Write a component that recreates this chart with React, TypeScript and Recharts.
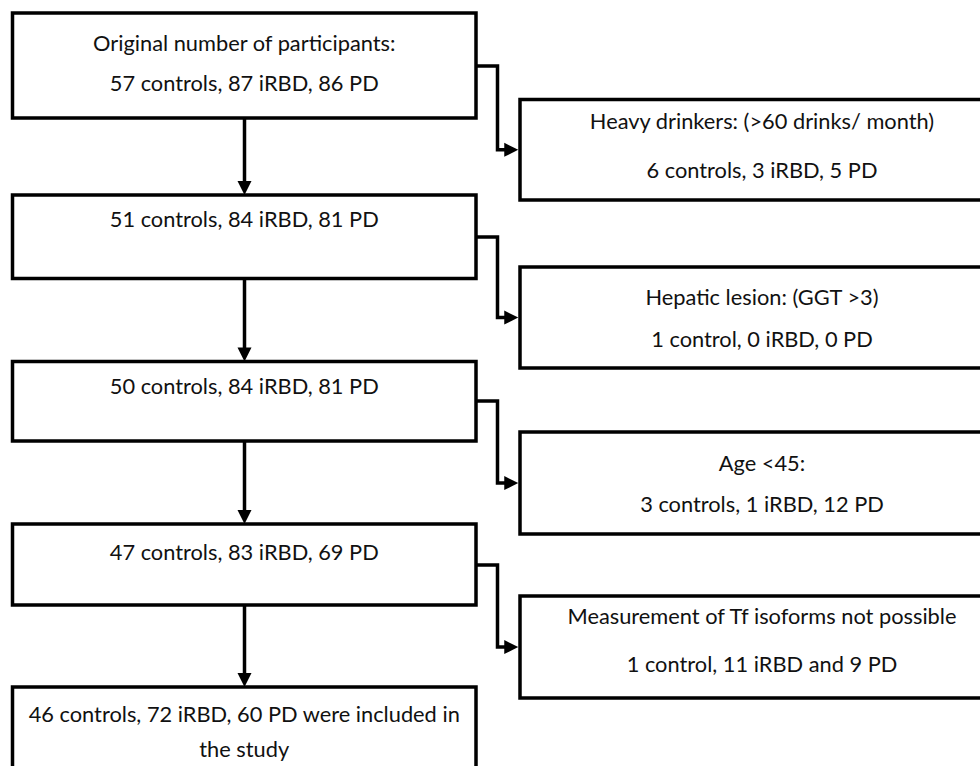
import React from "react";
import { ComposedChart, XAxis, YAxis, ReferenceArea, Line, Scatter } from "recharts";

// ---- content ----
const mainStages: string[][] = [
  ["Original number of participants:", "57 controls, 87 iRBD, 86 PD"],
  ["51 controls, 84 iRBD, 81 PD"],
  ["50 controls, 84 iRBD, 81 PD"],
  ["47 controls, 83 iRBD, 69 PD"],
  ["46 controls, 72 iRBD, 60 PD were included in", "the study"],
];
const exclusions: string[][] = [
  ["Heavy drinkers: (>60 drinks/ month)", "6 controls, 3 iRBD, 5 PD"],
  ["Hepatic lesion: (GGT >3)", "1 control, 0 iRBD, 0 PD"],
  ["Age <45:", "3 controls, 1 iRBD, 12 PD"],
  ["Measurement of Tf isoforms not possible", "1 control, 11 iRBD and 9 PD"],
];

// ---- layout (page coordinates) ----
const W = 980;
const H = 766;
const LEFT_X = [12.5, 476];
const RIGHT_X = [520, 1004];
const mainTops = [13, 195, 361.5, 524, 687];
const mainBottoms = [118, 278.5, 441, 605, 800];
const mainBaselines = [[51, 91], [227], [394], [560], [722, 757]];
const exclTops = [99.5, 267, 432, 596];
const exclBottoms = [200, 368, 534, 698];
const exclBaselines = [[129, 178], [305, 347], [471, 512], [624, 672]];
const branchY = [66, 237, 401, 565];
const BEND_X = 497.5;
const DOWN_X = 244.5;
const HEAD = 14;
const STROKE = 3.5;
const FONT = "Lato, 'Open Sans', sans-serif";
const FONT_SIZE = 21.8;

const leftCx = (LEFT_X[0] + LEFT_X[1]) / 2;
const rightCx = 762;

type TextPt = { x: number; y: number; text: string };
const textPoints: TextPt[] = [];
mainStages.forEach((lines, i) =>
  lines.forEach((t, j) => textPoints.push({ x: leftCx, y: mainBaselines[i][j], text: t }))
);
exclusions.forEach((lines, i) =>
  lines.forEach((t, j) => textPoints.push({ x: rightCx, y: exclBaselines[i][j], text: t }))
);

type Seg = { x: number; y: number }[];
const connectors: Seg[] = [];
type Head = { x: number; y: number; dir: "down" | "right" };
const heads: Head[] = [];
// vertical arrows between main boxes
for (let i = 0; i < mainStages.length - 1; i++) {
  const tipY = mainTops[i + 1];
  connectors.push([
    { x: DOWN_X, y: mainBottoms[i] },
    { x: DOWN_X, y: tipY - HEAD + 1 },
  ]);
  heads.push({ x: DOWN_X, y: tipY, dir: "down" });
}
// branch arrows to exclusion boxes
exclusions.forEach((_, i) => {
  const targetY = (exclTops[i] + exclBottoms[i]) / 2;
  const tipX = RIGHT_X[0] - STROKE / 2;
  connectors.push([
    { x: LEFT_X[1], y: branchY[i] },
    { x: BEND_X, y: branchY[i] },
    { x: BEND_X, y: targetY },
    { x: tipX - HEAD + 1, y: targetY },
  ]);
  heads.push({ x: tipX, y: targetY, dir: "right" });
});

const TextShape = (props: any) => {
  const { cx, cy, payload } = props;
  return (
    <text
      x={cx}
      y={cy}
      textAnchor="middle"
      fontFamily={FONT}
      fontSize={FONT_SIZE}
      fill="#111"
    >
      {payload.text}
    </text>
  );
};

const HeadShape = (props: any) => {
  const { cx, cy, payload } = props;
  const h = HEAD;
  const w = 7;
  const pts =
    payload.dir === "down"
      ? `${cx - w},${cy - h} ${cx + w},${cy - h} ${cx},${cy}`
      : `${cx - h},${cy - w} ${cx - h},${cy + w} ${cx},${cy}`;
  return <polygon points={pts} fill="#000" />;
};

export default function App() {
  return (
    <div style={{ position: "absolute", left: 0, top: 0, width: W, height: H, background: "#fff" }}>
      <ComposedChart width={W} height={H} margin={{ top: 0, right: 0, bottom: 0, left: 0 }}>
        <XAxis type="number" dataKey="x" domain={[0, W]} hide allowDataOverflow />
        <YAxis type="number" dataKey="y" domain={[0, H]} reversed hide allowDataOverflow width={0} />
        {mainStages.map((_, i) => (
          <ReferenceArea
            key={`m${i}`}
            x1={LEFT_X[0]}
            x2={LEFT_X[1]}
            y1={mainTops[i]}
            y2={mainBottoms[i]}
            fill="#fff"
            fillOpacity={1}
            stroke="#000"
            strokeWidth={STROKE}
            ifOverflow="visible"
          />
        ))}
        {exclusions.map((_, i) => (
          <ReferenceArea
            key={`e${i}`}
            x1={RIGHT_X[0]}
            x2={RIGHT_X[1]}
            y1={exclTops[i]}
            y2={exclBottoms[i]}
            fill="#fff"
            fillOpacity={1}
            stroke="#000"
            strokeWidth={STROKE}
            ifOverflow="visible"
          />
        ))}
        {connectors.map((seg, i) => (
          <Line
            key={`c${i}`}
            data={seg}
            dataKey="y"
            type="linear"
            stroke="#000"
            strokeWidth={STROKE}
            strokeLinejoin="miter"
            dot={false}
            activeDot={false}
            isAnimationActive={false}
          />
        ))}
        <Scatter data={heads} dataKey="y" shape={HeadShape} isAnimationActive={false} />
        <Scatter data={textPoints} dataKey="y" shape={TextShape} isAnimationActive={false} />
      </ComposedChart>
    </div>
  );
}
